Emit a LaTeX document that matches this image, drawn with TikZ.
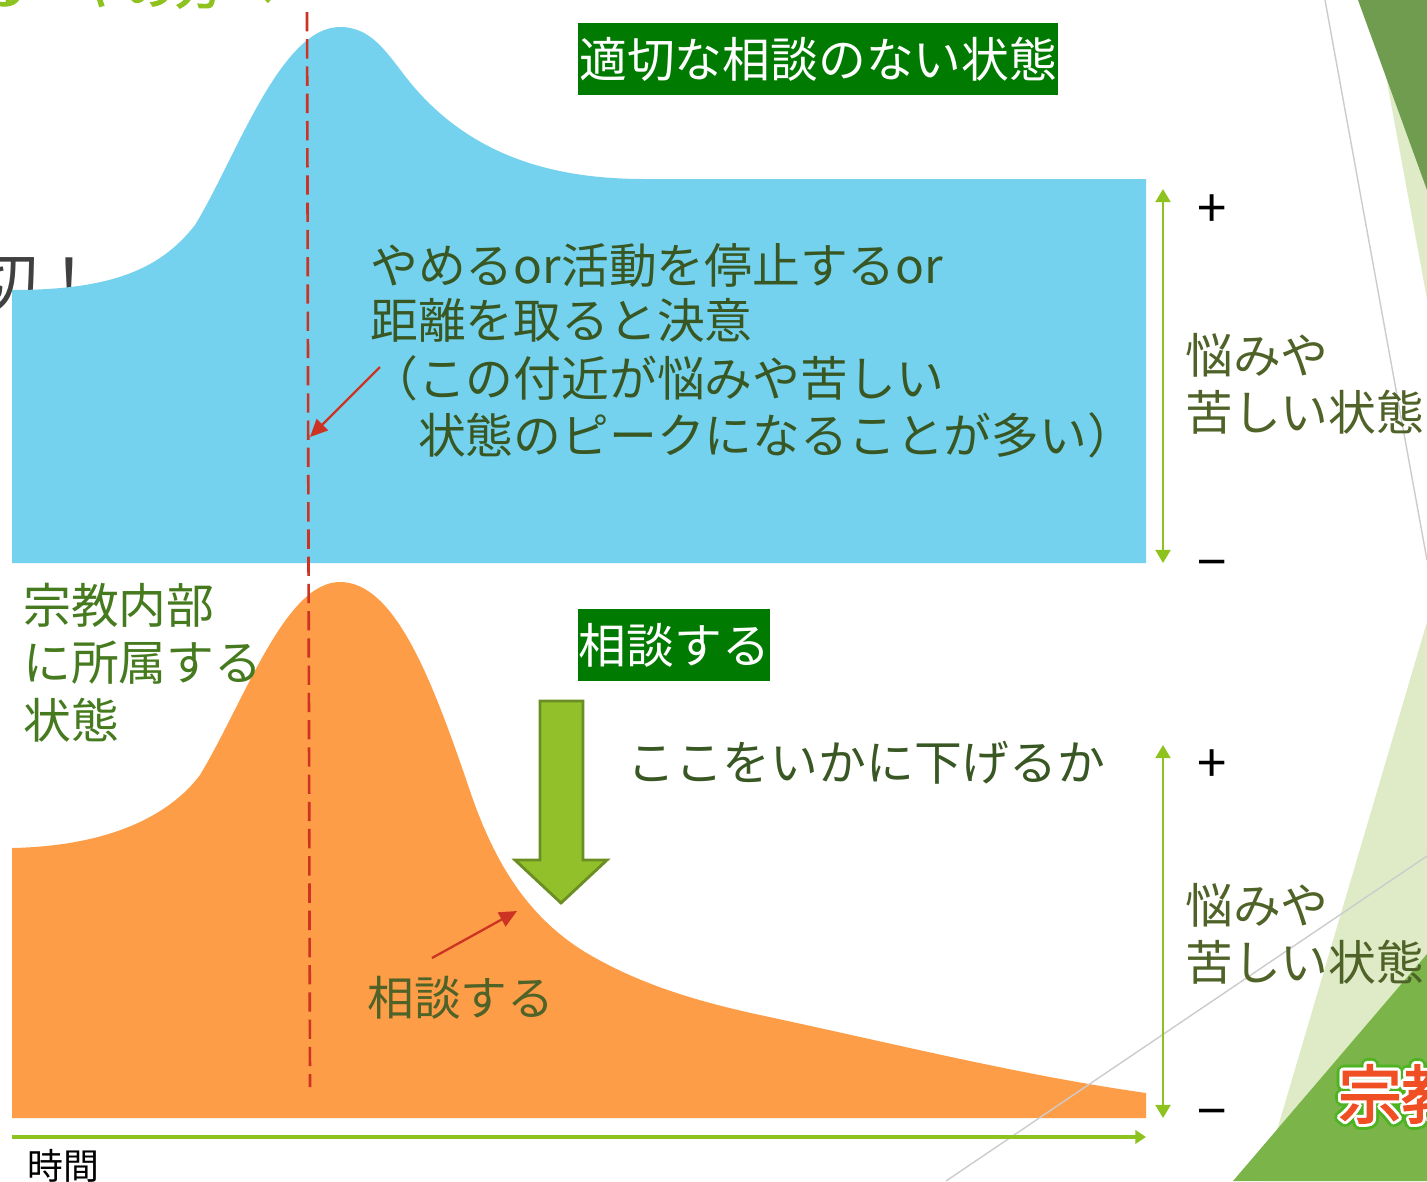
\documentclass[tikz,border=0pt]{standalone}
\usepackage{fontspec}
\setmainfont{Noto Sans CJK JP}
\newfontfamily\jpbold[FakeBold=2.5]{Noto Sans CJK JP}
\usetikzlibrary{arrows.meta}
\definecolor{skyb}{HTML}{75D2EE}
\definecolor{orng}{HTML}{FE9D47}
\definecolor{boxg}{HTML}{007A00}
\definecolor{txtdg}{HTML}{385723}
\definecolor{txtol}{HTML}{4F6228}
\definecolor{txtlg}{HTML}{467A1E}
\definecolor{arrowg}{HTML}{8DC21F}
\definecolor{bigfill}{HTML}{92C02A}
\definecolor{bigdraw}{HTML}{6A8E23}
\definecolor{redc}{HTML}{CC3322}
\definecolor{darkdeco}{HTML}{709C50}
\definecolor{lightdeco}{HTML}{DEEBC6}
\definecolor{middeco}{HTML}{7BB54A}
\definecolor{grayln}{HTML}{CCCCCC}
\definecolor{titleg}{HTML}{8DC21F}
\definecolor{slog}{HTML}{F04E23}
\definecolor{sloout}{HTML}{4DB320}
\begin{document}
\begin{tikzpicture}[x=0.02cm,y=-0.02cm,
  t48/.style={inner sep=0pt,anchor=west,font=\fontsize{27.2pt}{32pt}\selectfont,text height=23.9pt,text depth=3.3pt},
  t36/.style={inner sep=0pt,anchor=west,font=\fontsize{20.4pt}{24pt}\selectfont,text height=18pt,text depth=2.5pt},
  greenbox/.style={t48,anchor=north west,fill=boxg,text=white,minimum height=1.44cm},
  pm/.style={inner sep=0pt,font=\fontsize{30pt}{34pt}\selectfont},
  redarrow/.style={draw=redc,line width=1.3pt,-{Triangle[length=10pt,width=9pt]}},
  vaxis/.style={draw=arrowg,line width=1.5pt,{Triangle[length=7.5pt,width=8.5pt]}-{Triangle[length=7.5pt,width=8.5pt]}},
  haxis/.style={draw=arrowg,line width=2.2pt,-{Triangle[length=6pt,width=7.5pt]}},
  reddash/.style={draw=redc,line width=1.5pt,dash pattern=on 11pt off 4.5pt},
  bigarrowstyle/.style={fill=bigfill,draw=bigdraw,line width=1.6pt,line join=miter},
  deco/.style={draw=grayln,line width=0.8pt}]
\clip (0,0) rectangle (1427,1181);
\fill[white] (0,0) rectangle (1427,1181);
% background decorations
\fill[lightdeco] (1372,0) -- (1427,299) -- (1427,0) -- cycle;
\fill[darkdeco] (1358,0) -- (1427,190) -- (1427,0) -- cycle;
\draw[deco] (1325,0) -- (1427,560);
\fill[lightdeco] (1427,622) -- (1262,1181) -- (1427,1181) -- cycle;
\fill[middeco] (1427,954) -- (1233,1181) -- (1427,1181) -- cycle;
% cropped title fragments
\node[inner sep=0pt,anchor=base west,text=titleg,font=\jpbold\fontsize{28pt}{32pt}\selectfont] (title) at (-22,4) {る・やめ方へ};
\node[inner sep=0pt,anchor=east,text=black!75,font=\fontsize{36.3pt}{40pt}\selectfont,text height=32pt,text depth=4.4pt] (taisetsu) at (102,281) {大切！};
% blue curve
\fill[skyb] (12,563) -- (12,290) .. controls (110,290) and (160,270) .. (195,225)
  .. controls (235,160) and (280,27) .. (340,27)
  .. controls (370,27) and (385,50) .. (405,76)
  .. controls (470,160) and (560,179) .. (645,179) -- (1146,179) -- (1146,563) -- cycle;
% orange curve
\fill[orng] (12,1118) -- (12,848) .. controls (110,846) and (170,815) .. (200,775)
  .. controls (245,700) and (285,582) .. (340,582)
  .. controls (395,582) and (432,680) .. (468,785)
  .. controls (492,858) and (525,915) .. (585,952)
  .. controls (640,985) and (700,1002) .. (760,1015)
  .. controls (900,1045) and (1020,1075) .. (1146,1093) -- (1146,1118) -- cycle;
\draw[deco] (946,1181) -- (1427,856);
% red dashed line
\coordinate (dtop) at (307,12);
\coordinate (dbot) at (310,1087);
\draw[reddash] (dtop) -- (dbot);
% boxes
\node[greenbox,minimum width=9.6cm] (b1) at (578,23) {適切な相談のない状態};
\node[greenbox,minimum width=3.84cm] (b2) at (578,609) {相談する};
% blue text
\node[t48,text=txtdg] (l1) at (370,265) {やめるor活動を停止するor};
\node[t48,text=txtdg] (l2) at (370,320) {距離を取ると決意};
\node[t48,text=txtdg] (l3) at (370,378) {（この付近が悩みや苦しい};
\node[t48,text=txtdg] (l4) at (370,435) {　状態のピークになることが多い）};
% red arrows
\coordinate (r1s) at (380,367);
\coordinate (r1e) at (310,437);
\draw[redarrow] (r1s) -- (r1e);
\coordinate (r2s) at (432,958);
\coordinate (r2e) at (517,911);
\draw[redarrow] (r2s) -- (r2e);
% left label
\node[t48,text=txtlg] (s1) at (23,605) {宗教内部};
\node[t48,text=txtlg] (s2) at (23,662) {に所属する};
\node[t48,text=txtlg] (s3) at (23,720) {状態};
% big arrow
\draw[bigarrowstyle] (540,701) -- (583,701) -- (583,860) -- (607,860) -- (561,903) -- (515,860) -- (540,860) -- cycle;
\node[t48,text=txtdg] (koko) at (627,762) {ここをいかに下げるか};
\node[t48,text=txtol,font=\fontsize{26.6pt}{32pt}\selectfont] (soudan) at (367,997) {相談する};
% right axes
\coordinate (v1t) at (1163,189);
\coordinate (v1b) at (1163,563);
\draw[vaxis] (v1t) -- (v1b);
\coordinate (v2t) at (1163,745);
\coordinate (v2b) at (1163,1118);
\draw[vaxis] (v2t) -- (v2b);
\node[pm] (p1) at (1212,211) {+};
\node[pm] (m1) at (1212,571) {−};
\node[pm] (p2) at (1212,766) {+};
\node[pm] (m2) at (1212,1120) {−};
\node[t48,text=txtol] (n1) at (1185,355) {悩みや};
\node[t48,text=txtol] (n2) at (1185,412) {苦しい状態};
\node[t48,text=txtol] (n3) at (1185,905) {悩みや};
\node[t48,text=txtol] (n4) at (1185,962) {苦しい状態};
% time axis
\coordinate (ax0) at (12,1137);
\coordinate (ax1) at (1146,1137);
\draw[haxis] (ax0) -- (ax1);
\node[t36,text=black] (jikan) at (27,1166) {時間};
% outlined logo text
\foreach \a in {0,30,...,330}{
  \node[inner sep=0pt,anchor=west,text=sloout,font=\jpbold\fontsize{36pt}{40pt}\selectfont] (go\a) at ({1338+6*cos(\a)},{1094+6*sin(\a)}) {宗教};
}
\foreach \a in {0,30,...,330}{
  \node[inner sep=0pt,anchor=west,text=white,font=\jpbold\fontsize{36pt}{40pt}\selectfont] (wo\a) at ({1338+3*cos(\a)},{1094+3*sin(\a)}) {宗教};
}
\node[inner sep=0pt,anchor=west,text=slog,font=\jpbold\fontsize{36pt}{40pt}\selectfont] (logo) at (1338,1094) {宗教};
\end{tikzpicture}
\end{document}
